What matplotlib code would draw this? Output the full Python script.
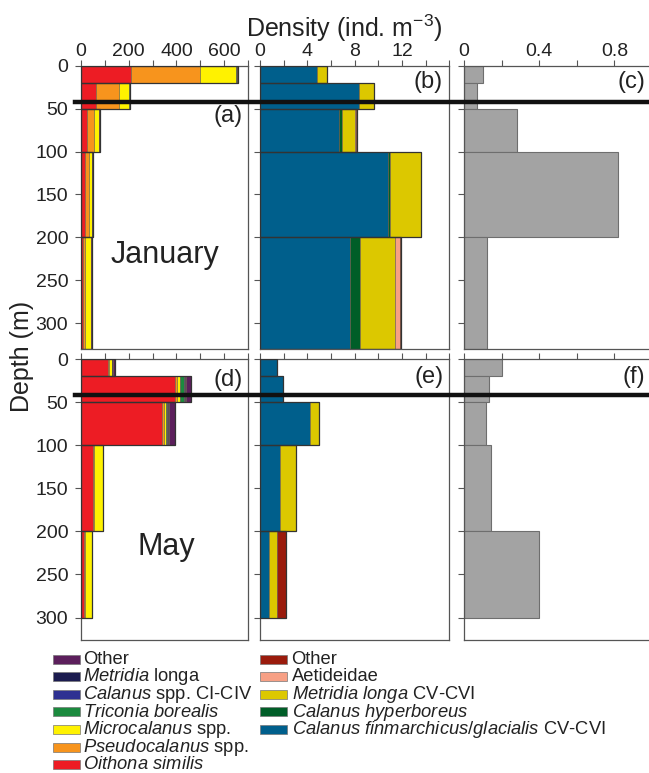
import numpy as np
import matplotlib
matplotlib.use("Agg")
import matplotlib.pyplot as plt
from matplotlib.lines import Line2D
from matplotlib.patches import Rectangle
from matplotlib import transforms

plt.rcParams['font.family'] = ['Liberation Sans', 'DejaVu Sans']
plt.rcParams['mathtext.fontset'] = 'custom'
plt.rcParams['mathtext.rm'] = 'Liberation Sans'
plt.rcParams['mathtext.it'] = 'Liberation Sans:italic'

# sampling layers (m)
jan_edges = [0, 20, 50, 100, 200, 330]
may_edges = [0, 20, 50, 100, 200, 300]

# small copepods (ind. m-3), per layer
small_names = [r'$\mathit{Oithona\ similis}$', r'$\mathit{Pseudocalanus}$ spp.',
               r'$\mathit{Microcalanus}$ spp.', r'$\mathit{Triconia\ borealis}$',
               r'$\mathit{Calanus}$ spp. CI-CIV', r'$\mathit{Metridia}$ longa', 'Other']
small_colors = ['#ed1c24', '#f7941d', '#fff200', '#1b8a3e', '#2e3192', '#1b1b4f', '#5c1f5c']
jan_small = [[210, 64, 25, 19, 8],
             [287, 97, 32, 17, 11],
             [153, 42, 18, 11, 23],
             [2, 1, 1, 1, 1],
             [1, 1, 1, 1, 0.5],
             [1, 1, 1, 1, 1],
             [2, 1, 1, 3, 1]]
may_small = [[112, 394, 339, 50, 14],
             [7, 7, 7, 7, 5],
             [11, 13, 9, 35, 27],
             [1, 18, 6, 1, 0.5],
             [1, 4, 3, 0.5, 0.3],
             [1, 4, 6, 0.5, 0.3],
             [9, 20, 24, 1, 0.5]]

# large copepods (ind. m-3), per layer
large_names = [r'$\mathit{Calanus\ finmarchicus/glacialis}$ CV-CVI',
               r'$\mathit{Calanus\ hyperboreus}$', r'$\mathit{Metridia\ longa}$ CV-CVI',
               'Aetideidae', 'Other']
large_colors = ['#005f8c', '#005e28', '#dcc800', '#f7a085', '#9a1b0c']
jan_large = [[4.79, 8.33, 6.64, 10.79, 7.63],
             [0.02, 0.05, 0.28, 0.23, 0.84],
             [0.88, 1.28, 1.13, 2.60, 2.97],
             [0, 0, 0.07, 0, 0.40],
             [0, 0, 0.07, 0, 0.08]]
may_large = [[1.46, 1.97, 4.23, 1.69, 0.79],
             [0, 0, 0, 0, 0],
             [0, 0, 0.76, 1.35, 0.67],
             [0, 0, 0, 0, 0],
             [0, 0, 0, 0, 0.74]]

# third column profiles
jan_ratio = [0.103, 0.067, 0.28, 0.82, 0.124]
may_ratio = [0.20, 0.135, 0.117, 0.142, 0.40]

W, H = 649, 773
fig = plt.figure(figsize=(W / 100, H / 100), dpi=100)

cols = [(80.7, 248.3), (260, 449.3), (464, 652)]
rows = [(65.7, 349, 330), (359, 640, 326)]
spine_c = '#555555'


def make_ax(col, row):
    x0, x1 = cols[col]
    y0, y1, ymax = rows[row]
    ax = fig.add_axes([x0 / W, 1 - y1 / H, (x1 - x0) / W, (y1 - y0) / H])
    ax.set_ylim(ymax, 0)
    ax.set_yticks(np.arange(0, 301, 50))
    for s in ax.spines.values():
        s.set_color(spine_c)
        s.set_linewidth(0.9)
    ax.tick_params(direction='out', length=4, width=0.8, color=spine_c,
                   labelsize=14, labelcolor='#222222')
    ax.tick_params(axis='x', pad=0, top=True, bottom=False,
                   labeltop=(row == 0), labelbottom=False)
    ax.tick_params(axis='y', pad=5, labelleft=(col == 0))
    return ax


def stacked(ax, edges, data, colors):
    heights = np.diff(edges)
    left = np.zeros(len(heights))
    for vals, c in zip(data, colors):
        vals = np.array(vals, dtype=float)
        m = vals > 0
        ax.barh(np.array(edges[:-1])[m], vals[m], height=heights[m], left=left[m],
                align='edge', color=c, edgecolor='#6a5a4a', linewidth=0.4, zorder=2)
        left += vals
    ax.barh(edges[:-1], left, height=heights, align='edge', fill=False,
            edgecolor='#333333', linewidth=0.9, zorder=3)


def gray(ax, edges, vals):
    ax.barh(edges[:-1], vals, height=np.diff(edges), align='edge',
            color='#a3a3a3', edgecolor='#6e6e6e', linewidth=0.8, zorder=2)


axes = []
for r, (edges, small, large, ratio) in enumerate(
        [(jan_edges, jan_small, jan_large, jan_ratio),
         (may_edges, may_small, may_large, may_ratio)]):
    a = make_ax(0, r)
    stacked(a, edges, small, small_colors)
    a.set_xlim(0, 700)
    a.set_xticks(np.arange(0, 701, 100))
    a.set_xticklabels(['0', '', '200', '', '400', '', '600', ''])

    b = make_ax(1, r)
    stacked(b, edges, large, large_colors)
    b.set_xlim(0, 16)
    b.set_xticks(np.arange(0, 17, 2))
    b.set_xticklabels(['0', '', '4', '', '8', '', '12', '', ''])

    c = make_ax(2, r)
    gray(c, edges, ratio)
    c.set_xlim(0, 1)
    c.set_xticks(np.arange(0, 1.01, 0.2))
    c.set_xticklabels(['0', '', '0.4', '', '0.8', ''])
    axes.append((a, b, c))

    # mixed layer marker across the row
    tr = transforms.blended_transform_factory(fig.transFigure, a.transData)
    fig.add_artist(Line2D([75 / W, 1.0], [42, 42], transform=tr,
                          color='#111111', linewidth=3.2, zorder=10))

# panel letters
letters = [[('(a)', 0.968, 0.822), ('(b)', 0.967, 0.942), ('(c)', 0.963, 0.941)],
           [('(d)', 0.968, 0.925), ('(e)', 0.972, 0.937), ('(f)', 0.963, 0.937)]]
for r in range(2):
    for k in range(3):
        t, x, y = letters[r][k]
        axes[r][k].text(x, y, t, transform=axes[r][k].transAxes, ha='right',
                        va='center', fontsize=17, color='#222222', zorder=12)

axes[0][0].text(0.503, 0.332, 'January', transform=axes[0][0].transAxes,
                ha='center', va='center', fontsize=22, color='#222222')
axes[1][0].text(0.509, 0.331, 'May', transform=axes[1][0].transAxes,
                ha='center', va='center', fontsize=22, color='#222222')

fig.text(344 / W, 1 - 37 / H, r'Density (ind. m$^{\mathregular{-3}}$)', ha='center',
         va='baseline', fontsize=18, color='#222222')
fig.text(22 / W, 1 - 356 / H, 'Depth (m)', rotation=90, ha='center',
         va='center', fontsize=18, color='#222222')

# legend blocks
row0, step = 659, 17.6
for names, colors, px, tx in [(small_names, small_colors, 52.7, 83),
                              (large_names, large_colors, 260, 291.5)]:
    for i, (n, c) in enumerate(zip(names[::-1], colors[::-1])):
        yc = row0 + i * step
        fig.add_artist(Rectangle((px / W, 1 - (yc + 4.5) / H), 27 / W, 9 / H,
                                 transform=fig.transFigure, facecolor=c,
                                 edgecolor='#777777', linewidth=0.5))
        fig.text(tx / W, 1 - (yc + 4.8) / H, n, ha='left', va='baseline',
                 fontsize=13.2, color='#222222')

fig.savefig('out.png', dpi=100)
